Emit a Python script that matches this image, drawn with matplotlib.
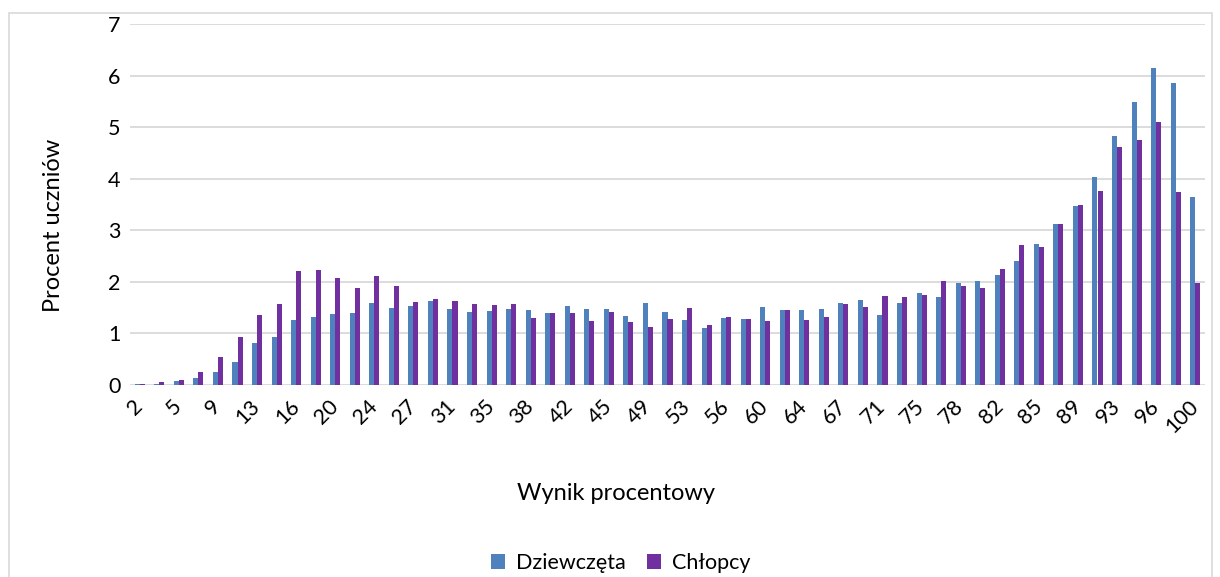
import numpy as np
import matplotlib
matplotlib.use("Agg")
import matplotlib.pyplot as plt
from matplotlib.patches import Rectangle

plt.rcParams['font.family'] = ['Lato', 'DejaVu Sans']

# wynik procentowy (1..55 pkt)
wyniki = [2, 4, 5, 7, 9, 11, 13, 15, 16, 18, 20, 22, 24, 25, 27, 29, 31, 33, 35, 36,
          38, 40, 42, 44, 45, 47, 49, 51, 53, 55, 56, 58, 60, 62, 64, 65, 67, 69, 71, 73,
          75, 76, 78, 80, 82, 84, 85, 87, 89, 91, 93, 95, 96, 98, 100]

dziewczeta = [0.02, 0.02, 0.07, 0.13, 0.26, 0.44, 0.81, 0.93, 1.26, 1.32,
              1.37, 1.39, 1.59, 1.49, 1.53, 1.63, 1.47, 1.41, 1.43, 1.47,
              1.45, 1.39, 1.53, 1.47, 1.47, 1.34, 1.59, 1.41, 1.26, 1.10,
              1.30, 1.28, 1.51, 1.45, 1.45, 1.47, 1.59, 1.65, 1.36, 1.59,
              1.78, 1.71, 1.98, 2.02, 2.14, 2.41, 2.74, 3.13, 3.48, 4.03,
              4.82, 5.49, 6.15, 5.86, 3.64]

chlopcy = [0.02, 0.05, 0.10, 0.26, 0.55, 0.94, 1.36, 1.57, 2.21, 2.23,
           2.08, 1.88, 2.12, 1.92, 1.61, 1.67, 1.63, 1.57, 1.55, 1.57,
           1.30, 1.39, 1.39, 1.24, 1.41, 1.22, 1.12, 1.28, 1.49, 1.16,
           1.32, 1.28, 1.24, 1.45, 1.26, 1.32, 1.57, 1.51, 1.73, 1.71,
           1.75, 2.02, 1.91, 1.89, 2.24, 2.72, 2.67, 3.13, 3.50, 3.77,
           4.61, 4.75, 5.10, 3.75, 1.98]

kolor_d = '#4F81BD'
kolor_c = '#7030A0'

fig = plt.figure(figsize=(12.2, 5.77), dpi=100)
ax = fig.add_axes([130 / 1220, 1 - 385 / 577, 1075 / 1220, 361 / 577])

x = np.arange(len(wyniki))
w = 0.26
ax.bar(x - w / 2, dziewczeta, w, color=kolor_d, label='Dziewczęta', zorder=3)
ax.bar(x + w / 2, chlopcy, w, color=kolor_c, label='Chłopcy', zorder=3)

ax.set_xlim(-0.5, len(wyniki) - 0.5)
ax.set_ylim(0, 7)
ax.set_yticks(range(0, 8))
ax.yaxis.grid(True, color='#D9D9D9', lw=1.3, zorder=0)
ax.set_axisbelow(True)
for s in ax.spines.values():
    s.set_visible(False)

ax.set_xticks(x[::2])
ax.set_xticklabels([str(v) for v in wyniki[::2]], rotation=45, ha='right',
                   va='center', rotation_mode='anchor')
ax.tick_params(axis='both', length=0, labelsize=15.5, colors='black')
ax.tick_params(axis='x', pad=13)
ax.tick_params(axis='y', pad=7)

# opisy osi
fig.text(54 / 1220, 1 - 225 / 577, 'Procent uczniów', fontsize=17,
         rotation=90, ha='center', va='center')
fig.text(616 / 1220, 1 - 493 / 577, 'Wynik procentowy', fontsize=17,
         ha='center', va='center')

fig.legend(loc='center', bbox_to_anchor=(621 / 1220, 1 - 563 / 577), ncol=2,
           frameon=False, fontsize=15.5, handlelength=0.65, handleheight=0.65,
           handletextpad=0.5, columnspacing=1.0)

# ramka wykresu
fig.patches.append(Rectangle((9 / 1220, -0.05), 1203 / 1220, 1.05 - 13 / 577,
                             transform=fig.transFigure, fill=False,
                             edgecolor='#D9D9D9', lw=1.2))

fig.savefig('out.png', dpi=100)
